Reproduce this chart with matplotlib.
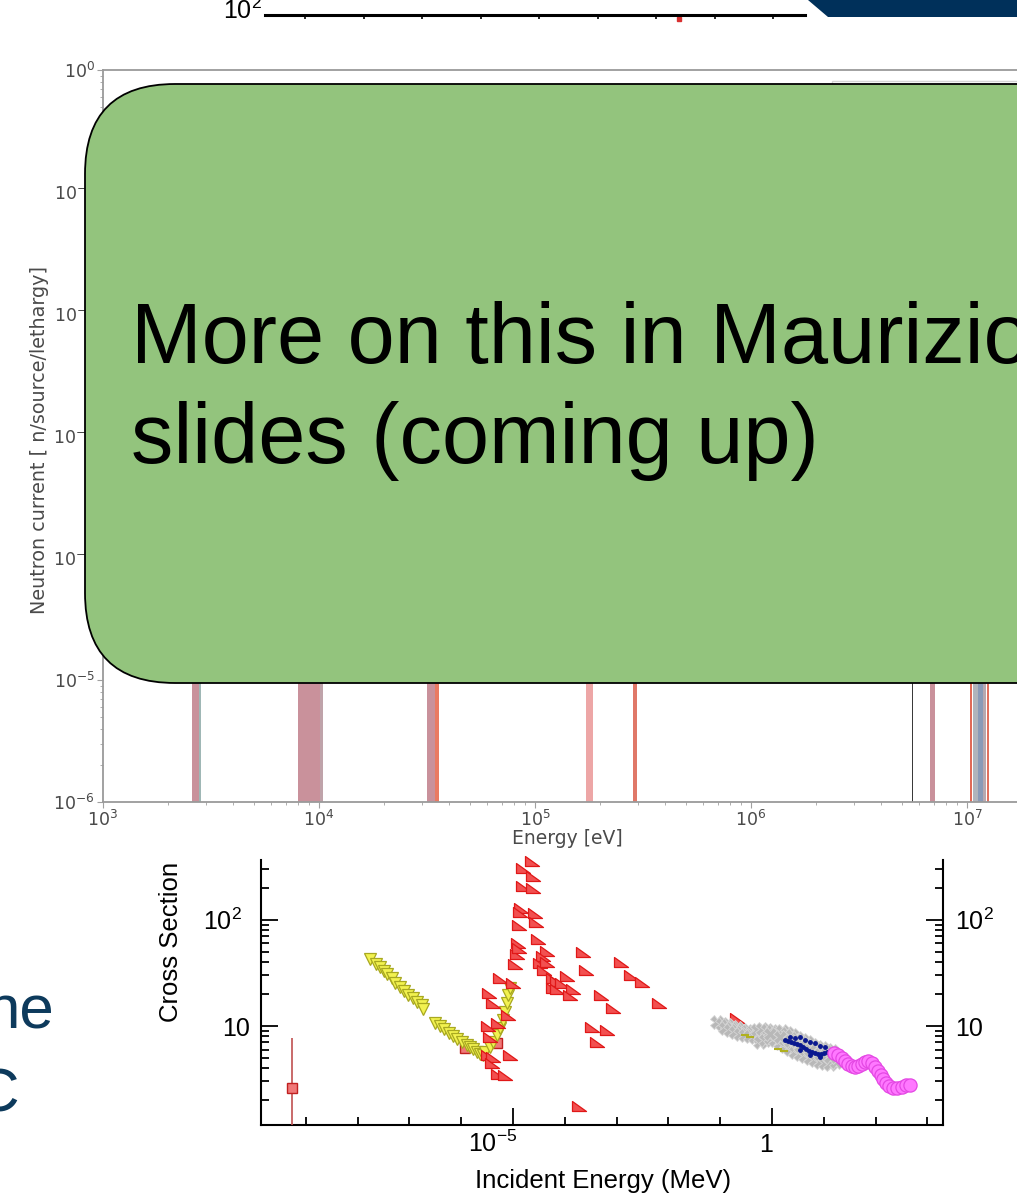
import matplotlib
matplotlib.use("Agg")
import matplotlib.pyplot as plt
import matplotlib.transforms as mtransforms
from matplotlib.patches import FancyBboxPatch, Polygon, Rectangle
from matplotlib.path import Path
from matplotlib.ticker import FixedLocator, LogLocator, NullFormatter

# ---------------------------------------------------------------- data
# neutron current spectrum: visible histogram bins (eV) and bin values
nc_lo = [2580, 2790, 8000, 10120, 31620, 34430, 172000, 284600, 5.54e6, 6.74e6,
         1.035e7, 1.07e7, 1.12e7, 1.18e7, 1.235e7]
nc_hi = [2780, 2830, 10120, 10440, 34430, 35950, 186000, 296800, 5.62e6, 7.11e6,
         1.05e7, 1.12e7, 1.18e7, 1.22e7, 1.27e7]
nc_val = [2e-2, 1e-2, 3e-2, 3e-2, 1e-2, 5e-3, 8e-3, 4e-3, 2e-3, 6e-3,
          5e-3, 4e-3, 4e-3, 3e-3, 3e-3]
nc_colors = ['#c9919b', '#9fb7b5', '#c9919b', '#bfa3aa', '#c9919b', '#ea7a62',
             '#eda6a6', '#e07868', '#3a3a3a', '#c9919b', '#e06a58', '#b0b4bc',
             '#8a9ab8', '#b8a8b0', '#e07060']
nc_xticks = [1e3, 1e4, 1e5, 1e6, 1e7]
nc_yticks = [1e-6, 1e-5, 1e-4, 1e-3, 1e-2, 1e-1, 1e0]

# cross section data sets (MeV, barn)
yel_E = [1.73e-8, 2.26e-8, 2.70e-8, 3.24e-8, 3.70e-8, 4.61e-8, 5.27e-8, 6.59e-8,
         7.87e-8, 9.40e-8, 1.17e-7, 1.40e-7, 1.75e-7, 1.83e-7,
         3.12e-7, 3.90e-7, 4.66e-7, 5.81e-7, 6.95e-7, 8.30e-7, 1.04e-6, 1.29e-6,
         1.48e-6, 1.69e-6, 2.02e-6, 2.31e-6, 2.64e-6,
         2.88e-6, 3.60e-6, 4.11e-6, 4.91e-6, 5.61e-6, 6.41e-6, 7.01e-6, 7.66e-6,
         8.00e-6, 8.75e-6]
yel_CS = [42.9, 38.5, 36.1, 33.1, 31.0, 28.4, 25.5, 23.4, 21.4, 19.6, 18.4, 16.8,
          15.8, 14.5,
          10.7, 10.0, 9.37, 8.59, 8.05, 7.54, 7.06, 6.62, 6.34, 6.07, 5.69, 5.45,
          5.33,
          5.69, 6.34, 7.06, 8.22, 9.57, 11.4, 13.5, 16.5, 19.6, 22.8]

red_E = [2.33e-5, 1.56e-5, 2.43e-5, 1.56e-5, 2.43e-5, 1.43e-5, 1.36e-5, 2.66e-5,
         2.78e-5, 1.31e-5, 3.04e-5, 1.25e-5, 1.19e-5, 1.31e-5, 1.09e-5, 4.53e-5,
         3.79e-5, 3.32e-5, 4.53e-5, 3.96e-5, 5.91e-5, 7.06e-5, 1.10e-4, 8.83e-5,
         5.91e-5, 7.06e-5, 1.44e-4, 1.26e-4, 2.24e-4, 2.56e-4, 1.22e-3, 1.90e-3,
         3.09e-3, 6.59e-3, 5.00e-4, 8.53e-4, 3.35e-4, 6.53e-4, 4.19e-4, 5.61e-6,
         1.0e-5, 3.44e-6, 4.11e-6, 8.00e-6, 5.13e-6, 3.29e-6, 3.60e-6, 3.29e-6,
         4.11e-6, 8.75e-6, 3.93e-6, 5.13e-6, 7.01e-6, 1.88e-4, 0.211]
red_CS = [360, 310, 260, 209, 200, 130, 119, 116, 95.7, 89.7, 66.2, 60.7, 47.8,
          54.4, 38.5, 51.0, 45.7, 39.3, 40.2, 33.7, 28.4, 26.6, 29.6, 25.5, 22.8,
          22.3, 22.3, 19.6, 49.9, 33.7, 40.2, 30.3, 26.0, 16.5, 19.6, 14.8, 9.78,
          9.17, 7.06, 28.4, 25.5, 20.5, 16.5, 12.7, 10.7, 10.0, 7.87, 5.33, 5.10,
          5.33, 4.48, 3.52, 3.45, 1.76, 11.9]

sq_E = [5.42e-10, 1.18e-6, 4.91e-6]
sq_CS = [2.60, 6.20, 6.92]
sq_err_lo = [2.2, 0.0, 0.0]
sq_err_hi = [5.1, 0.0, 0.0]

grey_E = [0.0867, 0.108, 0.135, 0.169, 0.211, 0.264, 0.329, 0.411,
          0.124, 0.155, 0.193, 0.241, 0.301, 0.376, 0.470, 0.586,
          0.513, 0.641, 0.800, 1.0, 1.25, 1.56, 1.95, 2.43, 3.04, 3.80, 4.74,
          5.92, 7.39, 9.23, 11.5, 14.4,
          0.586, 0.733, 0.915, 1.14, 1.43, 1.78, 2.22, 2.78, 3.47, 4.34, 5.42,
          6.77, 8.45, 10.5, 13.2, 17.2,
          0.915, 1.43, 2.22, 3.47, 5.42, 8.45, 13.2]
grey_CS = [10.9, 10.4, 10.2, 9.79, 9.57, 9.17, 8.97, 8.78,
           9.57, 9.17, 8.78, 8.41, 8.22, 8.05, 7.87, 7.70,
           9.17, 9.37, 9.17, 8.97, 8.78, 8.97, 8.59, 8.22, 7.70, 7.38, 7.06,
           6.62, 6.34, 6.20, 5.94, 5.81,
           7.06, 7.38, 7.70, 7.38, 6.91, 6.48, 6.07, 5.69, 5.45, 5.21, 4.99,
           4.78, 4.57, 4.48, 4.38, 4.57,
           8.41, 7.87, 7.22, 6.48, 5.94, 5.45, 5.10]

olive_E = [0.301, 0.376, 1.31, 1.71]
olive_CS = [8.22, 7.87, 6.07, 5.81]

navy_E = [1.78, 2.04, 2.33, 2.66, 3.04, 3.47, 3.97, 4.53, 5.18, 5.92, 6.77, 7.73,
          8.83, 10.1, 11.5, 13.2,
          2.78, 3.47, 4.34, 5.42, 6.77, 8.45, 10.5, 2.22,
          3.47, 5.42, 8.45]
navy_CS = [7.38, 7.22, 7.06, 6.91, 6.76, 6.62, 6.34, 6.07, 5.81, 5.69, 5.56, 5.45,
           5.45, 5.56, 5.69, 5.81,
           7.70, 7.87, 7.38, 7.06, 6.91, 6.48, 6.34, 7.87,
           5.94, 5.33, 5.10]

mag_E = [15.7, 18.8, 22.5, 25.6, 29.3, 35.0, 40.0, 45.7, 54.6, 62.4, 71.3, 85.3,
         97.3, 111, 127, 139, 159, 182, 217, 259, 324, 386, 461]
mag_CS = [5.56, 5.33, 4.99, 4.68, 4.38, 4.20, 4.11, 4.20, 4.38, 4.57, 4.68, 4.48,
          4.11, 3.76, 3.45, 3.16, 2.90, 2.72, 2.60, 2.60, 2.66, 2.78, 2.78]

cs_major_x = [1e-5, 1.0]
cs_minor_x = [1e-9, 1e-8, 1e-7, 1e-6, 1e-4, 1e-3, 1e-2, 1e-1, 1e1, 1e2, 1e3]

# ---------------------------------------------------------------- figure
W, H = 1017, 1195
plt.rcParams['mathtext.rm'] = 'Liberation Sans'
plt.rcParams['mathtext.it'] = 'Liberation Sans:italic'
plt.rcParams['mathtext.bf'] = 'Liberation Sans:bold'
plt.rcParams['mathtext.sf'] = 'Liberation Sans'

fig = plt.figure(figsize=(W / 100, H / 100), dpi=100)


def rect(x0, y0, x1, y1):
    return [x0 / W, 1 - y1 / H, (x1 - x0) / W, (y1 - y0) / H]


def fpos(x, y):
    return x / W, 1 - y / H


# ---------------------------------------------------------------- neutron current panel
axn = fig.add_axes(rect(103, 70, 1183, 802))
axn.set_xscale('log')
axn.set_yscale('log')
axn.set_xlim(1e3, 1e8)
axn.set_ylim(1e-6, 1e0)
widths = [h - l for l, h in zip(nc_lo, nc_hi)]
heights = [v - 1e-6 for v in nc_val]
axn.bar(nc_lo, heights, width=widths, bottom=1e-6, align='edge',
        color=nc_colors, linewidth=0, zorder=2)
for sp in axn.spines.values():
    sp.set_color('#9a9a9a')
    sp.set_linewidth(1.3)
axn.set_xticks(nc_xticks)
axn.set_yticks(nc_yticks)
axn.tick_params(which='both', direction='out', colors='#a0a0a0',
                labelcolor='#4a4a4a', labelsize=12.5, pad=2)
axn.tick_params(which='major', length=4, width=0.8)
axn.tick_params(which='minor', length=2, width=0.6)
axn.add_patch(Rectangle((0.675, 0.3), 0.5, 0.685, transform=axn.transAxes,
                        facecolor='white', edgecolor='#d5d5d5', lw=1.0,
                        zorder=3, clip_on=False))
fig.text(*fpos(40, 440), 'Neutron current [ n/source/lethargy]', rotation=90,
         ha='center', va='center', fontsize=13.8, color='#4a4a4a')
fig.text(*fpos(567, 839), 'Energy [eV]', ha='center', va='center',
         fontsize=13.5, color='#4a4a4a')

# ---------------------------------------------------------------- partial axis at the top
axt = fig.add_axes(rect(265, -45, 805, 15))
axt.set_xlim(-0.684, 8.547)
axt.set_ylim(0, 1)
for side in ('top', 'left', 'right'):
    axt.spines[side].set_visible(False)
axt.spines['bottom'].set_linewidth(2.2)
axt.set_xticks(range(9))
axt.set_xticklabels([])
axt.set_yticks([])
axt.tick_params(axis='x', direction='out', length=3, width=1.2)
axt.patch.set_alpha(0)
axt.plot([6.39], [-0.06], marker='s', ms=3.5, color='#d83030', clip_on=False)
fig.text(*fpos(262, 19), r'$10^{2}$', ha='right', va='baseline', fontsize=18,
         math_fontfamily='custom')

fig.add_artist(Polygon([(808 / W, 1), (1, 1), (1, 1 - 17 / H), (828 / W, 1 - 17 / H)],
                       closed=True, transform=fig.transFigure,
                       facecolor='#00305a', edgecolor='none'))

# ---------------------------------------------------------------- cross section panel
axc = fig.add_axes(rect(261, 860, 943, 1125))
axc.set_xscale('log')
axc.set_yscale('log')
axc.set_xlim(1.365e-10, 2000)
axc.set_ylim(1.164, 368)
axc.patch.set_alpha(0)
axc.spines['top'].set_visible(False)
for side in ('left', 'right', 'bottom'):
    axc.spines[side].set_linewidth(1.5)

axc.xaxis.set_major_locator(FixedLocator(cs_major_x))
axc.xaxis.set_minor_locator(FixedLocator(cs_minor_x))
axc.yaxis.set_major_locator(FixedLocator([10, 100]))
axc.yaxis.set_minor_locator(LogLocator(base=10, subs=[2, 3, 4, 5, 6, 7, 8, 9]))
axc.xaxis.set_major_formatter(NullFormatter())
axc.xaxis.set_minor_formatter(NullFormatter())
axc.yaxis.set_major_formatter(NullFormatter())
axc.yaxis.set_minor_formatter(NullFormatter())
axc.tick_params(which='both', direction='in', left=True, right=True,
                top=False, bottom=True, width=1.3)
axc.tick_params(which='major', length=12)
axc.tick_params(which='minor', length=6)

tri = Path([(-1, 0.8), (-1, -0.8), (1, -0.8), (-1, 0.8)],
           [Path.MOVETO, Path.LINETO, Path.LINETO, Path.CLOSEPOLY])

axc.errorbar(sq_E[:1], sq_CS[:1], yerr=[sq_err_lo[:1], sq_err_hi[:1]], fmt='none',
             ecolor='#c05050', elinewidth=1.2, capsize=0, zorder=3)
axc.plot(sq_E, sq_CS, linestyle='none', marker='s', ms=7, mfc='#f07878',
         mec='#c02020', mew=1.0, zorder=4, clip_on=False)
axc.plot(yel_E, yel_CS, linestyle='none', marker='v', ms=8.5, mfc='#f2f250',
         mec='#a8a820', mew=0.9, zorder=5, clip_on=False)
axc.plot(red_E, red_CS, linestyle='none', marker=tri, ms=9.5, mfc='#f25050',
         mec='#e01818', mew=0.9, zorder=6, clip_on=False)
axc.plot(grey_E, grey_CS, linestyle='none', marker='X', ms=10, mfc='#b8b8b8',
         mec='#d6d6d6', mew=0.6, zorder=7)
axc.plot(olive_E, olive_CS, linestyle='none', marker='_', ms=6, mec='#b0b020',
         mew=1.5, zorder=8)
axc.plot(navy_E, navy_CS, linestyle='none', marker='.', ms=5, color='#0a1890',
         zorder=9)
axc.plot(mag_E, mag_CS, linestyle='none', marker='o', ms=9.5, mfc='#ff78ff',
         mec='#e448e4', mew=0.9, zorder=10)


def offs(base, dx, dy):
    return mtransforms.offset_copy(base, fig=fig, x=dx, y=dy, units='dots')


lab = dict(fontsize=18, math_fontfamily='custom', family='Liberation Sans')
ytr = axc.get_yaxis_transform()
xtr = axc.get_xaxis_transform()
axc.text(0, 100, r'$10^{2}$', transform=offs(ytr, -19, -10), ha='right',
         va='baseline', **lab)
axc.text(0, 10, '10', transform=offs(ytr, -11, -10), ha='right', va='baseline', **lab)
axc.text(1, 100, r'$10^{2}$', transform=offs(ytr, 12, -10), ha='left',
         va='baseline', **lab)
axc.text(1, 10, '10', transform=offs(ytr, 12, -10), ha='left', va='baseline', **lab)
axc.text(1e-5, 0, r'$10^{-5}$', transform=offs(xtr, 4, -27), ha='right',
         va='baseline', **lab)
axc.text(1.0, 0, '1', transform=offs(xtr, 1, -27), ha='right', va='baseline', **lab)

fig.text(*fpos(171, 942), 'Cross Section', rotation=90, ha='center', va='center',
         fontsize=18.5, family='Liberation Sans')
fig.text(*fpos(603, 1181), 'Incident Energy (MeV)', ha='center', va='center',
         fontsize=18.5, family='Liberation Sans')

# ---------------------------------------------------------------- slide text fragments
navy = '#0d3a5c'
fig.text(*fpos(55, 1027), 'he', ha='right', va='baseline', fontsize=44.5,
         color=navy, family='Liberation Sans')
fig.text(*fpos(20, 1112), 'C', ha='right', va='baseline', fontsize=44.5,
         color=navy, family='Liberation Sans')

# ---------------------------------------------------------------- call-out box
box = FancyBboxPatch((85, H - 683), 1300, 683 - 84,
                     boxstyle='round,pad=0,rounding_size=90',
                     transform=mtransforms.IdentityTransform(),
                     facecolor='#93c47d', edgecolor='black', lw=1.3, zorder=20)
fig.add_artist(box)
fig.text(*fpos(131, 363), "More on this in Maurizio's", ha='left', va='baseline',
         fontsize=61, family='Liberation Sans', zorder=21)
fig.text(*fpos(131, 463), 'slides (coming up)', ha='left', va='baseline',
         fontsize=61, family='Liberation Sans', zorder=21)

fig.savefig('out.png', dpi=100)
